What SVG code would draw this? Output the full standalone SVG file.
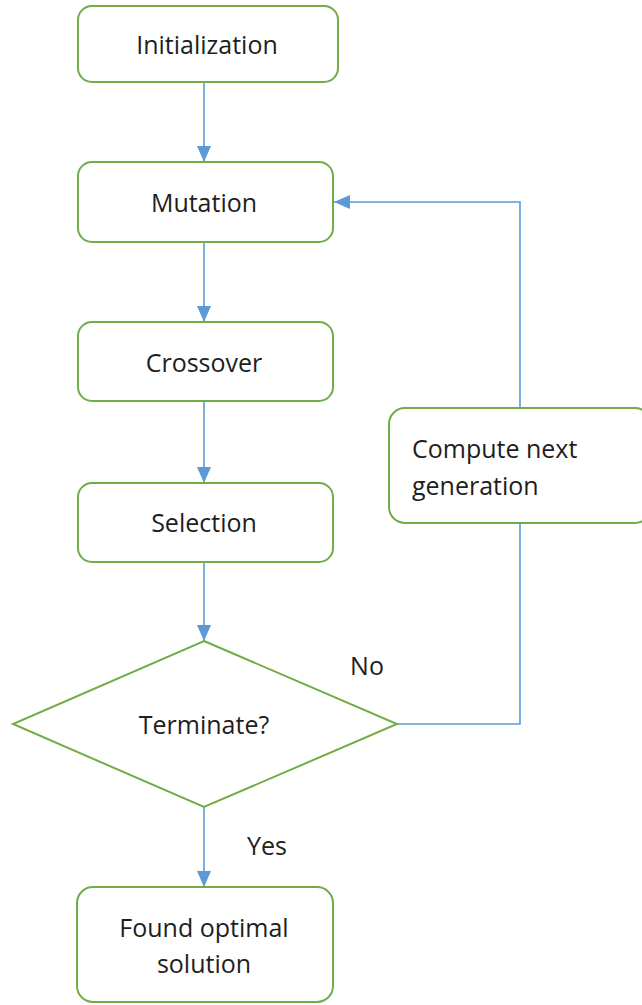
<svg xmlns="http://www.w3.org/2000/svg" width="642" height="1005" viewBox="0 0 642 1005">
  <defs>
    <marker id="head" viewBox="0 0 16 14" refX="16" refY="7" markerWidth="16" markerHeight="14" markerUnits="userSpaceOnUse" orient="auto">
      <path d="M0,0 L16,7 L0,14 z" fill="#5b9bd5"/>
    </marker>
  </defs>
  <style>
    .box { fill: #ffffff; stroke: #70ad47; stroke-width: 2; }
    .link { fill: none; stroke: #5b9bd5; stroke-width: 1.6; }
    .label { font-family: "Open Sans", "Liberation Sans", sans-serif; font-size: 25px; fill: #1e1e1e; }
    .mid { text-anchor: middle; dominant-baseline: central; }
  </style>

  <rect width="642" height="1005" fill="#ffffff"/>

  <!-- connectors -->
  <g id="connectors">
    <line class="link" x1="204" y1="82" x2="204" y2="162" marker-end="url(#head)"/>
    <line class="link" x1="204" y1="242" x2="204" y2="322" marker-end="url(#head)"/>
    <line class="link" x1="204" y1="401" x2="204" y2="483" marker-end="url(#head)"/>
    <line class="link" x1="204" y1="562" x2="204" y2="641" marker-end="url(#head)"/>
    <line class="link" x1="204" y1="807" x2="204" y2="887" marker-end="url(#head)"/>
    <polyline class="link" points="397,724 520,724 520,523"/>
    <polyline class="link" points="520,408 520,202 334,202" marker-end="url(#head)"/>
  </g>

  <g id="init">
    <rect class="box" x="78" y="6" width="260" height="76" rx="14"/>
    <text class="label mid" x="207" y="44">Initialization</text>
  </g>

  <g id="mutation">
    <rect class="box" x="78" y="162" width="255" height="80" rx="14"/>
    <text class="label mid" x="204" y="202">Mutation</text>
  </g>

  <g id="crossover">
    <rect class="box" x="78" y="322" width="255" height="79" rx="14"/>
    <text class="label mid" x="204" y="362">Crossover</text>
  </g>

  <g id="selection">
    <rect class="box" x="78" y="483" width="255" height="79" rx="14"/>
    <text class="label mid" x="204" y="522">Selection</text>
  </g>

  <g id="terminate">
    <polygon class="box" points="204,641 397,724 204,807 13,724"/>
    <text class="label mid" x="204" y="724">Terminate?</text>
  </g>

  <g id="found">
    <rect class="box" x="77" y="887" width="256" height="115" rx="16"/>
    <text class="label mid" x="204" y="927">Found optimal</text>
    <text class="label mid" x="204" y="963">solution</text>
  </g>

  <g id="compute">
    <rect class="box" x="389" y="408" width="262" height="115" rx="16"/>
    <text class="label" x="412" y="448" dominant-baseline="central">Compute next</text>
    <text class="label" x="412" y="485" dominant-baseline="central">generation</text>
  </g>

  <g id="edge-labels">
    <text class="label mid" x="367" y="665">No</text>
    <text class="label mid" x="267" y="845">Yes</text>
  </g>
</svg>
